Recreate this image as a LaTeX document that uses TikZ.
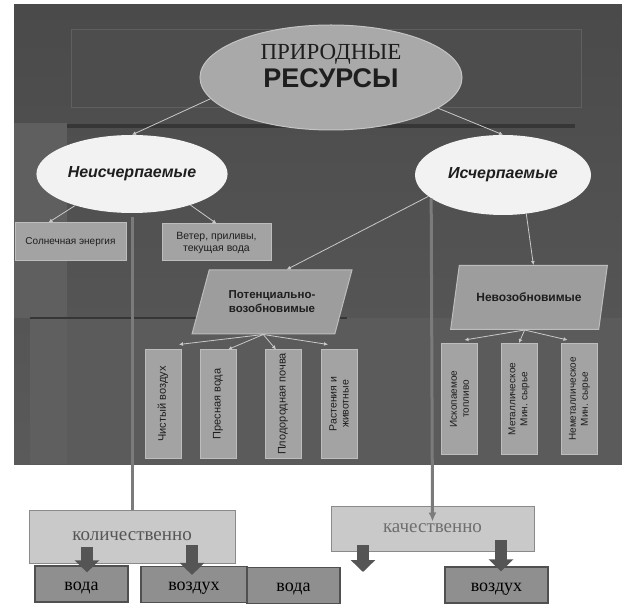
\documentclass[tikz,border=0pt]{standalone}
\usepackage{fontspec}
\setmainfont{Liberation Serif}
\setsansfont{Liberation Sans}
\usepackage{xcolor}
\usepackage{tikz}
\usetikzlibrary{positioning, arrows.meta, shapes.geometric, calc}

\definecolor{slidetop}{HTML}{4A4A4A}
\definecolor{slidebot}{HTML}{5A5A5A}
\definecolor{slidelite}{HTML}{5F5F5F}
\definecolor{slidelow}{HTML}{5B5B5B}
\definecolor{titlefill}{HTML}{4D4D4D}
\definecolor{titleedge}{HTML}{5F5F5F}
\definecolor{band}{HTML}{363636}
\definecolor{mainfill}{HTML}{A9A9A9}
\definecolor{mainedge}{HTML}{C4C4C4}
\definecolor{ovalfill}{HTML}{F2F2F2}
\definecolor{boxfill}{HTML}{A3A3A3}
\definecolor{boxedge}{HTML}{BDBDBD}
\definecolor{slantfill}{HTML}{9D9D9D}
\definecolor{linkgray}{HTML}{C9C9C9}
\definecolor{trunk}{HTML}{7B7B7B}
\definecolor{sumfill}{HTML}{C9C9C9}
\definecolor{sumedge}{HTML}{8A8A8A}
\definecolor{sumtext}{HTML}{555555}
\definecolor{darkfill}{HTML}{8F8F8F}
\definecolor{darkedge}{HTML}{505050}
\definecolor{arrowgray}{HTML}{555555}
\definecolor{txtdark}{HTML}{1E1E1E}

\tikzset{
    bigoval/.style={ellipse, fill=mainfill, draw=mainedge, line width=1pt,
        minimum width=262pt, minimum height=105pt},
    oval/.style={ellipse, fill=ovalfill, text=txtdark,
        font=\sffamily\bfseries\itshape\fontsize{16}{18}\selectfont},
    leafbox/.style={rectangle, draw=boxedge, fill=boxfill, line width=1pt, text=txtdark,
        align=center, inner sep=2pt, font=\sffamily\fontsize{10}{12}\selectfont},
    slantbox/.style={trapezium, trapezium left angle=66, trapezium right angle=114,
        trapezium stretches=true, draw=boxedge, fill=slantfill, line width=1pt,
        text=txtdark, align=center, minimum height=64pt,
        font=\sffamily\bfseries\fontsize{11.5}{14}\selectfont},
    upbox/.style={leafbox, rotate=90, minimum width=108pt, minimum height=36pt,
        font=\sffamily\fontsize{11}{12}\selectfont},
    sumbox/.style={rectangle, draw=sumedge, fill=sumfill, line width=1pt, text=sumtext,
        font=\rmfamily\fontsize{19}{22}\selectfont},
    darkbox/.style={rectangle, draw=darkedge, fill=darkfill, line width=1.2pt, text=black,
        minimum height=36pt, inner sep=0pt, text height=12pt, text depth=0pt,
        font=\rmfamily\fontsize{18}{20}\selectfont},
    link/.style={draw=linkgray, line width=0.8pt, -{Latex[length=4pt,width=4pt]}},
    trunkline/.style={draw=trunk, line width=3pt},
    fatarrow/.style={draw=arrowgray, line width=12pt, -{Triangle[length=12pt,width=24pt]}}
}

\begin{document}
\begin{tikzpicture}[x=1pt, y=-1pt]
    \useasboundingbox (0,0) rectangle (622,604);
    \fill[white] (0,0) rectangle (622,604);
    \shade[top color=slidetop, bottom color=slidebot] (14,5) rectangle (622,464);
    \fill[slidelite] (14,123) rectangle (67,318);
    \fill[slidelow] (30,318) rectangle (622,464);
    \fill[slidelite] (30,318) rectangle (67,464);
    \draw[titleedge, fill=titlefill] (71,29) rectangle (581,107);
    \fill[band] (67,124) rectangle (575,128);
    \draw[band, line width=1.5pt] (30,318) -- (347,318);

    \node[bigoval] (res) at (331,77.5) {};
    \node[align=center, text=txtdark] (restxt) at (331,66)
        {{\rmfamily\fontsize{23}{26}\selectfont ПРИРОДНЫЕ}\\[4pt]
         {\sffamily\bfseries\fontsize{27}{28}\selectfont РЕСУРСЫ}};

    \node[oval, minimum width=168pt, minimum height=78pt] (neis) at (132,174) {Неисчерпаемые};
    \node[oval, minimum width=176pt, minimum height=80pt] (isch) at (503,175) {Исчерпаемые};

    \node[leafbox, minimum width=111pt, minimum height=38pt] (soln) at (70.5,242) {Солнечная энергия};
    \node[leafbox, minimum width=109pt, minimum height=37pt, font=\sffamily\fontsize{10.5}{12}\selectfont]
        (veter) at (216.5,242.5) {Ветер, приливы,\\текущая вода};

    \node[slantbox, minimum width=160pt] (pot) at (272,302) {Потенциально-\\возобновимые};
    \node[slantbox, minimum width=157pt, font=\sffamily\bfseries\fontsize{12}{14}\selectfont]
        (nev) at (529,297.5) {Невозобновимые};

    \node[upbox] (air) at (163,404) {Чистый воздух};
    \node[upbox] (fresh) at (218,404) {Пресная вода};
    \node[upbox] (soil) at (283,404) {Плодородная почва};
    \node[upbox, font=\sffamily\fontsize{10.5}{12}\selectfont] (life) at (339,404) {Растения и\\животные};
    \node[upbox, minimum width=111pt, font=\sffamily\fontsize{10}{12}\selectfont] (fuel) at (459.5,399) {Ископаемое\\топливо};
    \node[upbox, minimum width=111pt, font=\sffamily\fontsize{10}{12}\selectfont] (metal) at (519,399) {Металлическое\\Мин. сырье};
    \node[upbox, minimum width=111pt, font=\sffamily\fontsize{10}{12}\selectfont] (nonmetal) at (579.5,399) {Неметаллическое\\Мин. сырье};

    \draw[link] (res.190) -- (neis.north);
    \draw[link] (res.344) -- (isch.north);
    \draw[link] (neis.209) -- ([xshift=-22pt]soln.north);
    \draw[link] (neis.332) -- (veter.north);
    \draw[link] (isch.196) -- ([xshift=6pt]pot.top side);
    \draw[link] (isch.301) -- (nev.top side);
    \draw[link] (pot.bottom side) -- ([xshift=16pt,yshift=5pt]air.east);
    \draw[link] (pot.bottom side) -- ([xshift=10pt]fresh.east);
    \draw[link] (pot.bottom side) -- ([xshift=-7pt]soil.east);
    \draw[link] (pot.bottom side) -- ([xshift=-11pt,yshift=5pt]life.east);
    \draw[link] (nev.bottom side) -- ([xshift=5pt,yshift=3pt]fuel.east);
    \draw[link] (nev.bottom side) -- (metal.east);
    \draw[link] (nev.bottom side) -- ([xshift=-12pt,yshift=3pt]nonmetal.east);

    \node[sumbox, minimum width=206pt, minimum height=53pt] (kol) at (132,536.5) {количественно};
    \node[sumbox, minimum width=203pt, minimum height=45pt, text=sumtext!85!white] (kach) at (432.5,528.5) {качественно};

    \node[darkbox, minimum width=93pt] (voda1) at (81.5,584) {вода};
    \node[darkbox, minimum width=106pt] (vozd1) at (194,584.5) {воздух};
    \node[darkbox, minimum width=93pt] (voda2) at (293.5,585.5) {вода};
    \node[darkbox, minimum width=103pt] (vozd2) at (496.5,585) {воздух};
    \coordinate (drop) at (363,572);

    \draw[trunkline, shorten <=4pt] (neis.south) -- (kol.north);
    \draw[trunkline, -{Latex[length=9pt,width=8pt]}] (isch.198) -- ([yshift=-16pt]kach.north);

    \draw[fatarrow] ([xshift=-45pt,yshift=-10.5pt]kol.center) -- ([xshift=5.5pt,yshift=-7pt]voda1.north);
    \draw[fatarrow] ([xshift=60pt,yshift=-8.5pt]kol.center) -- ([xshift=-2pt,yshift=-9pt]vozd1.north);
    \draw[fatarrow] ([xshift=-69.5pt,yshift=-16.5pt]kach.center) -- (drop);
    \draw[fatarrow] ([xshift=68.5pt,yshift=-11.5pt]kach.center) -- ([xshift=4.5pt,yshift=-5pt]vozd2.north);
\end{tikzpicture}
\end{document}
